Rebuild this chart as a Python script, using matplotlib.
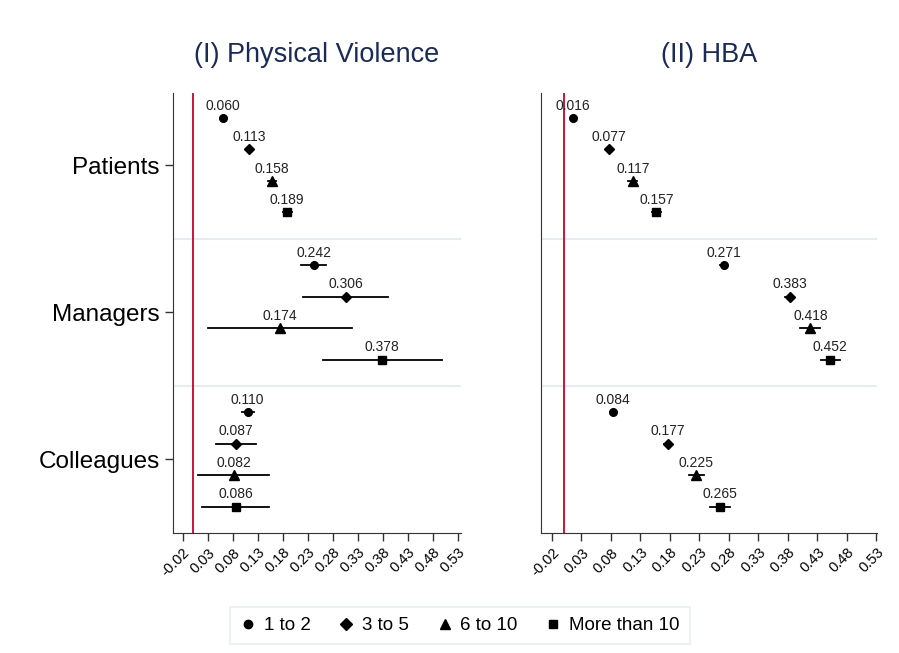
import numpy as np
from matplotlib import pyplot as plt
from matplotlib.lines import Line2D

plt.rcParams['font.family'] = ['Liberation Sans', 'DejaVu Sans']

groups = ['Patients', 'Managers', 'Colleagues']
sizes = ['1 to 2', '3 to 5', '6 to 10', 'More than 10']
markers = ['o', 'D', '^', 's']
msizes = [5.5, 5.5, 6.5, 5.5]

# (I) Physical Violence: estimates and 95% CI per group x size
pv_est = [[0.060, 0.113, 0.158, 0.189],
          [0.242, 0.306, 0.174, 0.378],
          [0.110, 0.087, 0.082, 0.086]]
pv_lo = [[0.055, 0.106, 0.150, 0.180],
         [0.217, 0.221, 0.030, 0.260],
         [0.098, 0.046, 0.010, 0.019]]
pv_hi = [[0.065, 0.120, 0.167, 0.198],
         [0.267, 0.390, 0.318, 0.498],
         [0.122, 0.127, 0.153, 0.152]]

# (II) HBA
hba_est = [[0.016, 0.077, 0.117, 0.157],
           [0.271, 0.383, 0.418, 0.452],
           [0.084, 0.177, 0.225, 0.265]]
hba_lo = [[0.012, 0.071, 0.109, 0.149],
          [0.265, 0.375, 0.401, 0.436],
          [0.079, 0.170, 0.212, 0.248]]
hba_hi = [[0.020, 0.083, 0.124, 0.164],
          [0.277, 0.391, 0.435, 0.468],
          [0.089, 0.184, 0.237, 0.281]]

xticks = np.round(np.arange(-0.02, 0.531, 0.05), 2)
gstep = 14 / 3.0


def draw_panel(ax, title, est, lo, hi, xlim, show_y):
    for g in range(len(groups)):
        for i in range(len(sizes)):
            y = g * gstep + i
            ax.plot([lo[g][i], hi[g][i]], [y, y], color='black', lw=1.3, zorder=3)
            ax.plot(est[g][i], y, marker=markers[i], ms=msizes[i], color='black',
                    linestyle='none', zorder=4)
            ax.annotate('%.3f' % est[g][i], xy=(est[g][i], y), xytext=(0, 6),
                        textcoords='offset points', ha='center', va='baseline',
                        fontsize=10, color='#222222', zorder=5)
    for g in range(len(groups) - 1):
        ax.axhline(g * gstep + 3 + (gstep - 3) / 2, color='#e6edf2', lw=1.5, zorder=1)
    ax.axvline(0, color='#d0103a', lw=1.4, zorder=2)

    ax.set_xlim(*xlim)
    ax.set_ylim(13.17, -0.79)
    ax.set_xticks(xticks)
    ax.set_xticklabels(['%.2f' % t for t in xticks], rotation=45, ha='right',
                       rotation_mode='anchor', fontsize=10.5)
    ax.tick_params(axis='both', width=1.0, color='#333333', length=6)
    ax.tick_params(axis='x', pad=3)
    if show_y:
        ax.set_yticks([g * gstep + 1.5 for g in range(len(groups))])
        ax.set_yticklabels(groups, fontsize=17.5)
    else:
        ax.set_yticks([])
    ax.spines['top'].set_visible(False)
    ax.spines['right'].set_visible(False)
    ax.spines['left'].set_color('#333333')
    ax.spines['bottom'].set_color('#333333')
    ax.set_title(title, fontsize=19.5, color='#1a2a5a', pad=22)


fig = plt.figure(figsize=(8.99, 6.53), dpi=100)
ax1 = fig.add_axes([173 / 899, 1 - 533 / 653, 288 / 899, 440 / 653])
ax2 = fig.add_axes([541 / 899, 1 - 533 / 653, 336 / 899, 440 / 653])

draw_panel(ax1, '(I) Physical Violence', pv_est, pv_lo, pv_hi, (-0.039, 0.536), True)
draw_panel(ax2, '(II) HBA', hba_est, hba_lo, hba_hi, (-0.0386, 0.531), False)

handles = [Line2D([], [], marker=markers[i], ms=msizes[i] + 0.5, color='black',
                  linestyle='none') for i in range(len(sizes))]
leg = fig.legend(handles, sizes, loc='center', bbox_to_anchor=(460 / 899, 1 - 625.5 / 653),
                 ncol=4, fontsize=13.5, frameon=True, fancybox=False,
                 handletextpad=0.45, columnspacing=1.5, borderpad=0.55, handlelength=0.8)
leg.get_frame().set_edgecolor('#e3ebf0')
leg.get_frame().set_linewidth(1.2)

fig.savefig('out.png', dpi=100)
